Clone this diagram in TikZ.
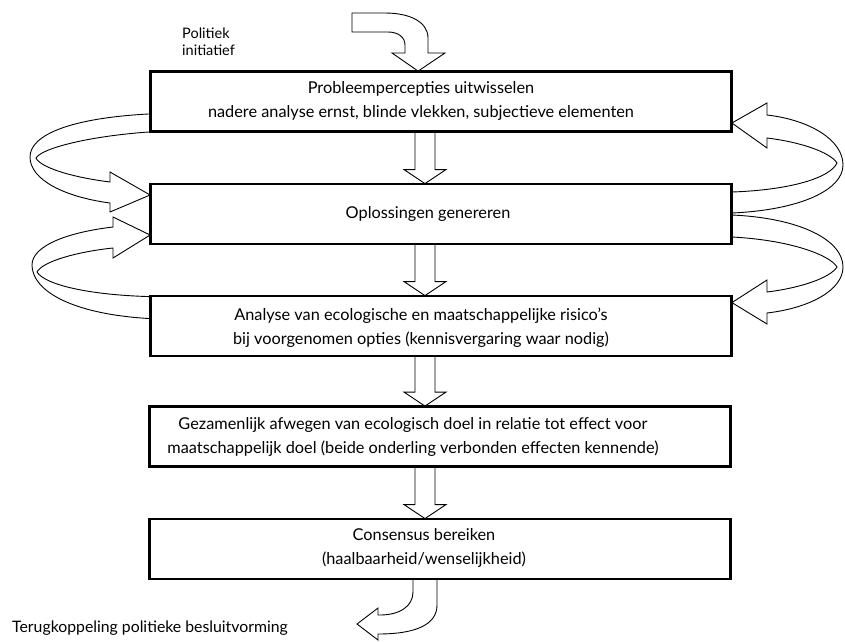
\documentclass[tikz,border=0pt]{standalone}
\usepackage{fontspec}
\setmainfont{Lato}
\usetikzlibrary{calc}
\begin{document}
\begin{tikzpicture}[x=1pt,y=-1pt,
  stage/.style={draw, line width=1.8pt, minimum width=580pt, minimum height=59pt, inner sep=0pt},
  stagetext/.style={align=center, inner sep=0pt, font=\fontsize{16.3}{24}\selectfont},
  blockarrow/.style={draw, line width=0.9pt, fill=white, line join=miter},
  note/.style={inner sep=0pt, align=left}]
\useasboundingbox (0,0) rectangle (845,641);

% column of the straight block arrows
\coordinate (axis) at (425,0);

% stage boxes
\node[stage] (b1) at (441,101.5) {};
\node[stage] (b2) at (441,214) {};
\node[stage] (b3) at (441,326) {};
\node[stage] (b4) at (440,436.5) {};
\node[stage] (b5) at (440,549) {};

% stage texts
\node[stagetext] (t1) at (421,101) {Probleempercepties uitwisselen\\nadere analyse ernst, blinde vlekken, subjectieve elementen};
\node[stagetext] (t2) at (428,214) {Oplossingen genereren};
\node[stagetext] (t3) at (421,328) {Analyse van ecologische en maatschappelijke risico's\\bij voorgenomen opties (kennisvergaring waar nodig)};
\node[stagetext] (t4) at (413,437) {Gezamenlijk afwegen van ecologisch doel in relatie tot effect voor\\maatschappelijk doel (beide onderling verbonden effecten kennende)};
\node[stagetext] (t5) at (424,548) {Consensus bereiken\\(haalbaarheid/wenselijkheid)};

% straight block arrow between two stages
\newcommand\stagearrow[2]{%
  \draw[blockarrow, fill=none]
    ($(#1.south -| axis)+(-10,0)$) -- ($(#2.north -| axis)+(-10,-14)$)
    -- ($(#2.north -| axis)+(-21,-14)$) -- (#2.north -| axis)
    -- ($(#2.north -| axis)+(21,-14)$) -- ($(#2.north -| axis)+(10,-14)$)
    -- ($(#1.south -| axis)+(10,0)$);}
\stagearrow{b1}{b2}
\stagearrow{b2}{b3}
\stagearrow{b3}{b4}
\stagearrow{b4}{b5}

% curved feedback arrows on the left
\draw[blockarrow] ($(b1.south west)+(0,-18)$)
  .. controls (70,118) and (30,135) .. (30,157)
  .. controls (30,180) and (65,197) .. (110,203)
  -- (110,212) -- ($(b2.west)+(0,-19)$) -- (110,172) -- (110,182)
  .. controls (70,177) and (40,167) .. (36,158)
  .. controls (42,148) and (90,136) .. (b1.south west) -- cycle;
\draw[blockarrow] ($(b3.north west)+(0,23)$)
  .. controls (70,314) and (32,290) .. (32,265)
  .. controls (32,245) and (70,232) .. (113,227)
  -- (113,217) -- ($(b2.west)+(0,21)$) -- (113,258) -- (113,248)
  .. controls (75,252) and (42,262) .. (37,272)
  .. controls (45,285) and (90,295) .. ($(b3.north west)+(0,1)$) -- cycle;

% curved feedback arrows on the right
\draw[blockarrow] ($(b2.east)+(0,-1)$)
  .. controls (800,210) and (843,190) .. (843,165)
  .. controls (843,140) and (810,120) .. (767,115)
  -- (767,103) -- ($(b1.east)+(0,21.5)$) -- (767,148) -- (767,138)
  .. controls (800,142) and (830,152) .. (837,163)
  .. controls (830,178) and (790,190) .. ($(b2.east)+(0,-22)$) -- cycle;
\draw[blockarrow] ($(b2.east)+(0,1)$)
  .. controls (800,218) and (843,240) .. (843,267)
  .. controls (843,290) and (810,308) .. (767,313)
  -- (767,324) -- ($(b3.north east)+(0,7)$) -- (767,280) -- (767,292)
  .. controls (800,288) and (830,278) .. (837,267)
  .. controls (830,255) and (790,240) .. ($(b2.east)+(0,23)$) -- cycle;

% incoming political initiative
\coordinate (intip) at ($(b1.north west)+(268,0)$);
\draw[blockarrow] (352,13) -- (385,13)
  .. controls (410,13) and (428,22) .. (428,38) -- (428,53) -- (445,53)
  -- (intip) -- (392,53) -- (405,53) -- (405,45)
  .. controls (405,37) and (398,32) .. (388,32) -- (352,32) -- cycle;

% outgoing feedback to political decision making
\coordinate (outtip) at (357,624);
\draw[blockarrow] ($(b5.south -| axis)+(-12,0)$) -- (413,592)
  .. controls (413,606) and (400,615) .. (380,615) -- (378,615)
  -- (378,608) -- (outtip) -- (378,640) -- (378,634)
  .. controls (415,634) and (437,625) .. (437,605)
  -- ($(b5.south -| axis)+(12,0)$);

% box outlines on top
\foreach \b in {b1,b2,b3,b4,b5}
  \draw[line width=1.8pt] (\b.north west) rectangle (\b.south east);

\node[note, anchor=base west, font=\fontsize{14.5}{17}\selectfont] (pi) at (182,55) {Politiek\\initiatief};
\node[note, anchor=base west, font=\fontsize{15.8}{17}\selectfont] (tk) at (12,632) {Terugkoppeling politieke besluitvorming};
\end{tikzpicture}
\end{document}
